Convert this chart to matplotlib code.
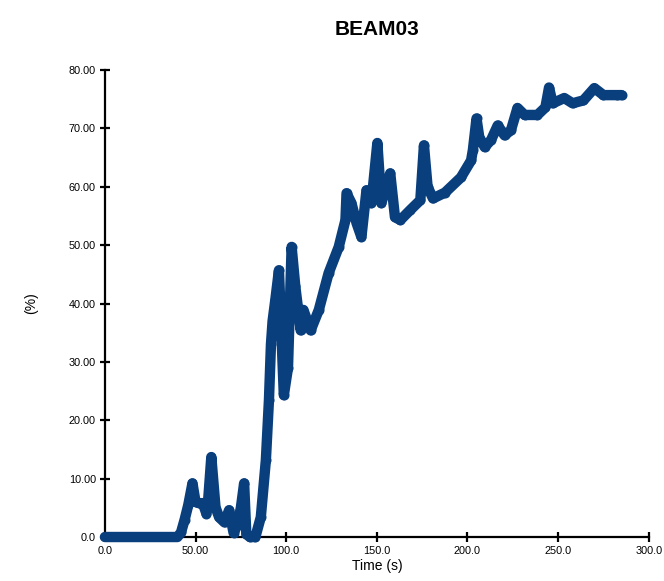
import matplotlib.pyplot as plt

# values (time in s, value in %)
time_s = [0, 10, 20, 30, 40, 42, 44, 46, 48.3, 50, 52, 54, 56, 57, 58.7, 61, 63, 66, 68.5, 71,
          73, 75, 76.8, 78, 80, 83, 86, 88.8, 90.5, 91.6, 92.5, 94, 96, 98.7, 101, 103, 105,
          108, 109.5, 113.5, 118, 123.4, 129, 132.7, 133.3, 136, 138.8, 141.5, 144.3, 147,
          150.3, 152.5, 157.4, 160, 163, 168.4, 174, 176, 178, 181, 187.6, 196.4, 202, 203,
          205, 206.5, 209.5, 213, 216.7, 220.5, 224, 227.6, 231.5, 238.6, 243, 245, 247,
          253.4, 258, 264, 270, 275, 282.5, 285]
value_pct = [0, 0, 0, 0, 0, 0.8, 3.0, 5.5, 9.2, 6.0, 5.8, 5.8, 4.0, 6.5, 13.7, 5.1, 3.4, 2.5,
             4.6, 0.7, 2.0, 5.0, 9.2, 0.5, 0, 0, 3.4, 13.2, 23.5, 33, 37, 40.6, 45.7, 24.3, 29,
             49.7, 43, 35.4, 38.9, 35.4, 38.9, 45.2, 49.7, 54.3, 58.9, 57.2, 53.8, 51.4, 59.4,
             57.2, 67.5, 57.2, 62.3, 54.8, 54.3, 56, 57.7, 67.1, 60, 58, 59, 61.6, 64.5, 66.3,
             71.7, 68.5, 66.8, 68, 70.5, 68.8, 69.7, 73.5, 72.3, 72.3, 73.6, 77, 74.3, 75.2,
             74.3, 74.8, 76.9, 75.7, 75.7, 75.7]

x_ticks = [0, 50, 100, 150, 200, 250, 300]
x_tick_labels = ['0.0', '50.00', '100.0', '150.0', '200.0', '250.0', '300.0']
y_ticks = [0, 10, 20, 30, 40, 50, 60, 70, 80]
y_tick_labels = ['0.0', '10.00', '20.00', '30.00', '40.00', '50.00', '60.00', '70.00', '80.00']

plt.rcParams['font.family'] = ['Liberation Sans', 'DejaVu Sans']

fig = plt.figure(figsize=(6.64, 5.81), dpi=100)
ax = fig.add_axes([0.158, 0.0757, 0.819, 0.8038])

color = '#0a3f7e'
ax.plot(time_s, value_pct, '-', color=color, linewidth=7.5, solid_joinstyle='round',
        solid_capstyle='round', zorder=3, clip_on=False)
ax.plot(time_s[5:], value_pct[5:], 'o', color=color, markerfacecolor='none', markersize=6,
        markeredgewidth=1.2, zorder=3, clip_on=False)

ax.set_xlim(0, 300)
ax.set_ylim(0, 80)
ax.set_xticks(x_ticks)
ax.set_xticklabels(x_tick_labels, fontsize=7.8)
ax.set_yticks(y_ticks)
ax.set_yticklabels(y_tick_labels, fontsize=7.8)

for side in ['top', 'right']:
    ax.spines[side].set_visible(False)
for side in ['left', 'bottom']:
    ax.spines[side].set_linewidth(1.6)

ax.tick_params(direction='inout', length=7, width=1.6, pad=3)

ax.set_title('BEAM03', fontsize=15, fontweight='bold', pad=25)
ax.set_xlabel('Time (s)', fontsize=10, labelpad=2)
ax.set_ylabel('(%)', fontsize=10, labelpad=22)

fig.savefig('out.png', dpi=100)
